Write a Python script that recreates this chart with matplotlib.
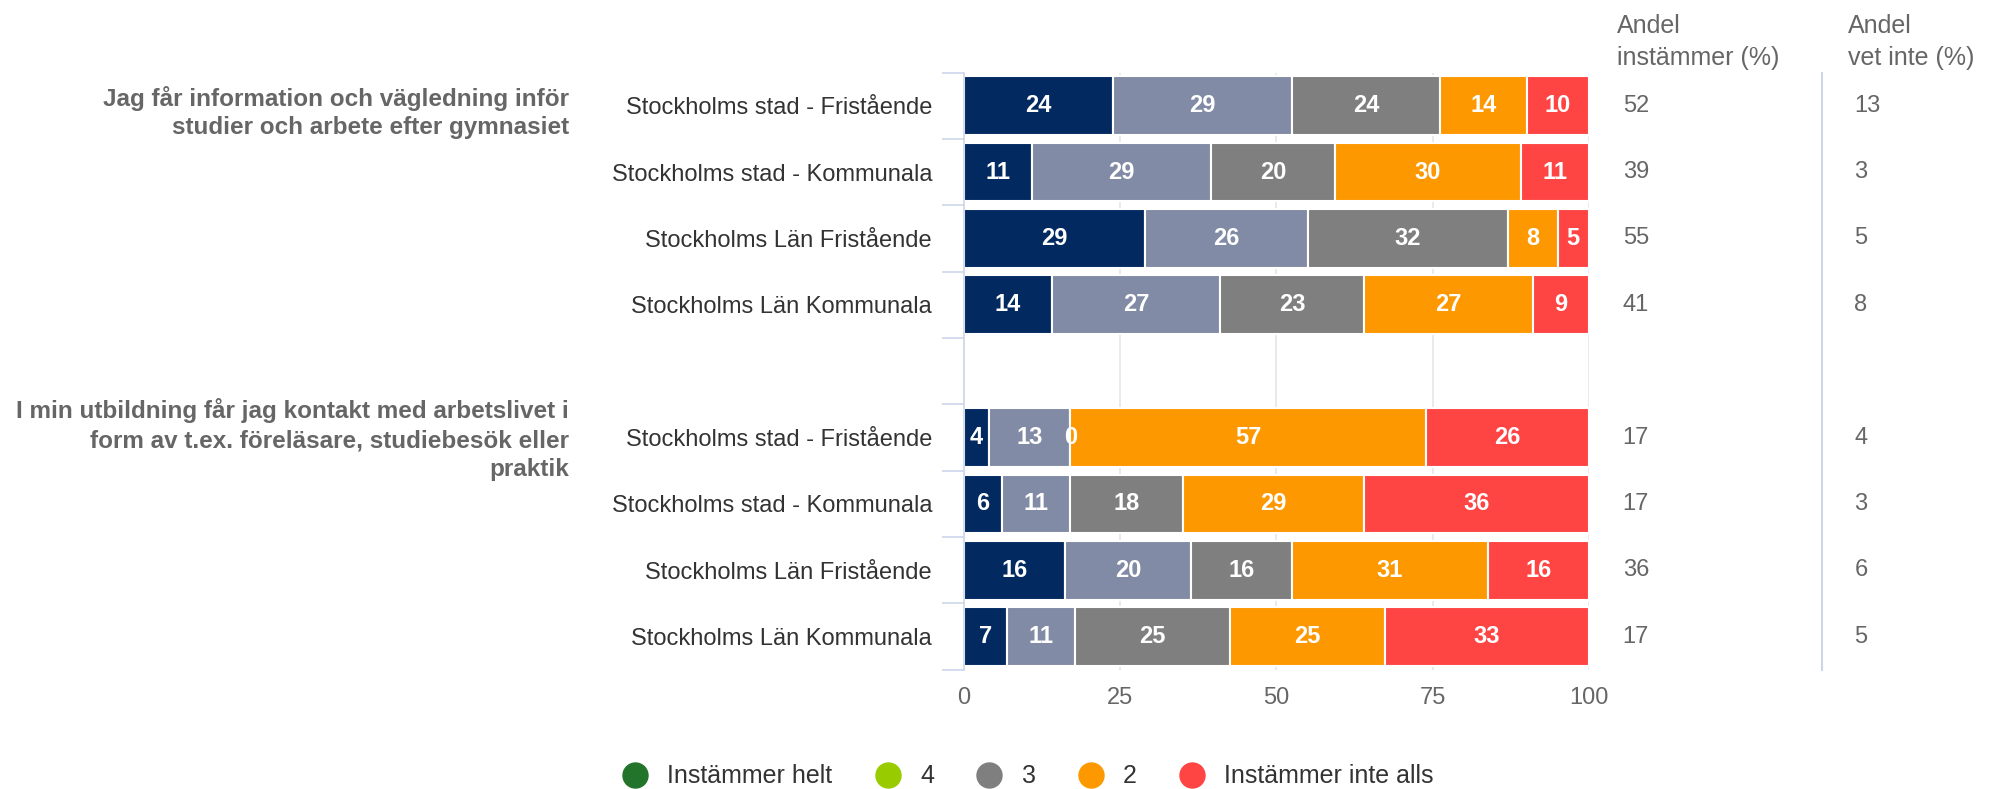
import numpy as np
import matplotlib.pyplot as plt
from matplotlib.lines import Line2D
from matplotlib.transforms import blended_transform_factory

plt.rcParams['font.family'] = ['Liberation Sans', 'DejaVu Sans']

questions = [
    'Jag får information och vägledning inför\nstudier och arbete efter gymnasiet',
    'I min utbildning får jag kontakt med arbetslivet i\nform av t.ex. föreläsare, studiebesök eller\npraktik',
]
groups = [
    'Stockholms stad - Fristående',
    'Stockholms stad - Kommunala',
    'Stockholms Län Fristående',
    'Stockholms Län Kommunala',
]
series = ['Instämmer helt', '4', '3', '2', 'Instämmer inte alls']

# answers per row: Instämmer helt, 4, 3, 2, Instämmer inte alls
q1_values = [
    [24, 29, 24, 14, 10],
    [11, 29, 20, 30, 11],
    [29, 26, 32, 8, 5],
    [14, 27, 23, 27, 9],
]
q2_values = [
    [4, 13, 0, 57, 26],
    [6, 11, 18, 29, 36],
    [16, 20, 16, 31, 16],
    [7, 11, 25, 25, 33],
]
q1_agree = [52, 39, 55, 41]
q1_dont_know = [13, 3, 5, 8]
q2_agree = [17, 17, 36, 17]
q2_dont_know = [4, 3, 6, 5]

bar_colors = ['#022a61', '#828ba6', '#7f7f7f', '#fd9800', '#ff4444']
legend_colors = ['#23742b', '#99cc00', '#7f7f7f', '#fd9800', '#ff4444']

# one empty slot between the two questions
rows = q1_values + [None] + q2_values
agree = q1_agree + [None] + q2_agree
dont_know = q1_dont_know + [None] + q2_dont_know
labels = groups + [''] + groups

fig = plt.figure(figsize=(19.96, 7.89), dpi=100)
ax = fig.add_axes([0.483, 0.151, 0.313, 0.757])

for y, vals in enumerate(rows):
    if vals is None:
        continue
    vals = np.array(vals, dtype=float)
    pct = vals / vals.sum() * 100
    left = 0.0
    for k, (v, w) in enumerate(zip(vals, pct)):
        ax.barh(y, w, left=left, height=0.885, color=bar_colors[k],
                edgecolor='white', linewidth=1.5, zorder=2)
        ax.text(left + w / 2, y, '%d' % v, ha='center', va='center',
                color='white', fontsize=17, fontweight='bold', zorder=3)
        left += w

ax.set_xlim(0, 100)
ax.set_ylim(len(rows) - 0.5, -0.5)
ax.set_xticks([0, 25, 50, 75, 100])
ax.tick_params(axis='x', length=0, labelsize=17, labelcolor='#666666', pad=12)
ax.set_yticks(range(len(rows)))
ax.set_yticklabels(labels)
ax.tick_params(axis='y', which='major', length=0, labelsize=17,
               labelcolor='#333333', pad=23)
ax.set_yticks(np.arange(-0.5, len(rows)), minor=True)
ax.tick_params(axis='y', which='minor', length=16, width=1.2, color='#ccd6eb')
ax.grid(axis='x', color='#e6e6e6', linewidth=1.2, zorder=0)
ax.set_axisbelow(True)
for s in ['top', 'right', 'bottom']:
    ax.spines[s].set_visible(False)
ax.spines['left'].set_color('#ccd6eb')
ax.spines['left'].set_linewidth(1.2)

tr = blended_transform_factory(fig.transFigure, ax.transData)

# question texts next to the first row of each block
fig.text(0.285, 0.1, questions[0], transform=tr, ha='right', va='center',
         fontsize=17.5, fontweight='bold', color='#666666', linespacing=1.32)
fig.text(0.285, 5.03, questions[1], transform=tr, ha='right', va='center',
         fontsize=17.5, fontweight='bold', color='#666666', linespacing=1.35)

# extra columns on the right
fig.text(0.810, 0.947, 'Andel\ninstämmer (%)', ha='left', va='center',
         fontsize=18, color='#666666', linespacing=1.45)
fig.text(0.926, 0.947, 'Andel\nvet inte (%)', ha='left', va='center',
         fontsize=18, color='#666666', linespacing=1.45)
for y, (a, d) in enumerate(zip(agree, dont_know)):
    if a is None:
        continue
    fig.text(0.813, y, str(a), transform=tr, ha='left', va='center',
             fontsize=17, color='#666666')
    fig.text(0.929, y, str(d), transform=tr, ha='left', va='center',
             fontsize=17, color='#666666')
fig.add_artist(Line2D([0.913, 0.913], [0.151, 0.908], color='#ccd6eb',
                      linewidth=1.5, transform=fig.transFigure))

handles = [Line2D([], [], marker='o', linestyle='none', markersize=18,
                  markerfacecolor=c, markeredgecolor=c) for c in legend_colors]
fig.legend(handles, series, loc='center', bbox_to_anchor=(0.512, 0.016),
           ncol=5, frameon=False, fontsize=18, handletextpad=0.3,
           columnspacing=1.2, labelcolor='#333333')

fig.savefig('out.png', dpi=100, facecolor='white')
